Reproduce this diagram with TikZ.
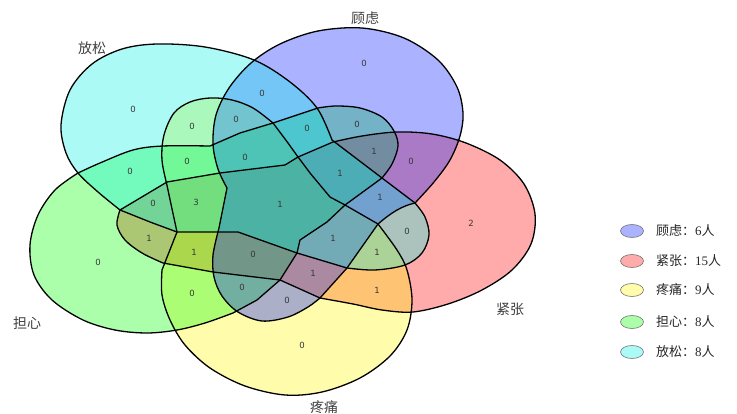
\documentclass[tikz,border=0pt]{standalone}
\usepackage{fontspec}
\newfontfamily\cjk{Noto Sans CJK SC}
\newfontfamily\numf{DejaVu Sans}
\newfontfamily\serf{Liberation Serif}
\definecolor{cblue}{RGB}{0,20,255}
\definecolor{cred}{RGB}{255,0,0}
\definecolor{cyellow}{RGB}{255,245,0}
\definecolor{cgreen}{RGB}{0,255,0}
\definecolor{ccyan}{RGB}{0,240,225}
\def\pBlue{(378,224) .. controls (392,212) and (402,206) .. (415,203) -- plot[smooth, tension=0.55] coordinates {(415,203) (434,182) (450,160) (460,136) (463,113) (457,87) (438,60) (404,38) (362,28) (318,31) (280,44) (251,63) (229,88) (216,115) (213,144) (218,169) (227,188)} -- (219,228) -- plot[smooth, tension=0.55] coordinates {(219,228) (213,255) (214,277) (222,296) (238,312) (262,321) (288,317) (308,307) (320,298)} -- (347,268) -- cycle}
\def\pRed{(120,210) -- (167,182) -- (220,173) -- (285,165) -- (298,157) -- (333,142) -- plot[smooth, tension=0.55] coordinates {(333,142) (362,136) (397,132) (432,134) (466,143) (500,160) (524,184) (535,214) (531,244) (512,270) (482,290) (448,304) (413,312) (382,310) (353,304) (320,298)} -- (280,280) -- (213,272) -- (163,263) -- plot[smooth, tension=0.55] coordinates {(163,263) (142,253) (125,240) (117,225) (120,210)} -- cycle}
\def\pGreen{plot[smooth, tension=0.55] coordinates {(78,173) (55,190) (38,215) (30,245) (34,275) (52,300) (83,320) (115,330) (147,333) (177,330) (205,323) (233,313)} -- (257,300) -- (280,280) -- (297,253) -- (300,240) -- (327,222) -- (345,205) -- plot[smooth, tension=0.55] coordinates {(382,178) (392,164) (398,146) (394,131) (382,117) (360,108) (336,106) (318,108)} -- (273,123) -- (240,133) -- (210,146) -- plot[smooth, tension=0.55] coordinates {(210,146) (163,146) (133,150) (100,163) (78,173)} -- cycle}
\def\pYellow{plot[smooth, tension=0.55] coordinates {(378,224) (397,250) (407,270) (412,300) (407,330) (390,356) (360,378) (322,392) (285,395) (245,386) (210,368) (185,345) (170,320) (162,295) (162,270)} -- (177,232) -- plot[smooth, tension=0.55] coordinates {(177,232) (168,190) (162,160) (164,135) (174,113) (190,102) (210,98) (232,100) (253,108) (273,123)} -- (288,143) -- (298,157) -- (310,173) -- (330,197) -- (345,205) -- cycle}
\def\pCyan{plot[smooth, tension=0.55] coordinates {(332,140) (317,108) (290,82) (254,60) (205,47) (157,44) (122,49) (92,64) (70,90) (61,125) (66,153) (78,173) (98,192) (120,210)} -- (150,222) -- (177,232) -- (238,232) -- (297,253) -- plot[smooth, tension=0.55] coordinates {(347,268) (375,270) (405,265) (422,253) (429,235) (425,217) (415,203)} -- (382,178) -- cycle}
\tikzset{
  num/.style={font=\numf\fontsize{8.5}{8.5}\selectfont, text=black!78, inner sep=0pt},
  setlabel/.style={font=\cjk\fontsize{14}{14}\selectfont, text=black!75, inner sep=0pt},
  legtext/.style={font=\cjk\fontsize{13}{13}\selectfont, text=black!85, inner sep=0pt, anchor=west},
  legmark/.style={draw=black!55, line width=0.6pt, fill opacity=0.33, ellipse, minimum width=23pt, minimum height=13pt},
  outline/.style={draw=black, line width=1.3pt, line join=round},
  shapefill/.style={fill opacity=0.33}
}
\usetikzlibrary{shapes.geometric}
\begin{document}
\begin{tikzpicture}[x=1pt,y=-1pt]
\useasboundingbox (0,0) rectangle (737,414);
% fills
\fill[cred, shapefill] \pRed;
\fill[cyellow, shapefill] \pYellow;
\fill[cgreen, shapefill] \pGreen;
\fill[cblue, shapefill] \pBlue;
\fill[ccyan, shapefill] \pCyan;
% outlines
\draw[outline] \pRed;
\draw[outline] \pYellow;
\draw[outline] \pGreen;
\draw[outline] \pBlue;
\draw[outline] \pCyan;
% region counts
\node[num] (n1) at (364,63) {0};
\node[num] (n2) at (133,109) {0};
\node[num] (n3) at (262,93) {0};
\node[num] (n4) at (192,126) {0};
\node[num] (n5) at (236,119) {0};
\node[num] (n6) at (307,128) {0};
\node[num] (n7) at (357,124) {0};
\node[num] (n8) at (187,161) {0};
\node[num] (n9) at (245,157) {0};
\node[num] (n10) at (374,151) {1};
\node[num] (n11) at (411,161) {0};
\node[num] (n12) at (130,171) {0};
\node[num] (n13) at (340,173) {1};
\node[num] (n14) at (153,203) {0};
\node[num] (n15) at (196,202) {3};
\node[num] (n16) at (280,204) {1};
\node[num] (n17) at (380,197) {1};
\node[num] (n18) at (471,223) {2};
\node[num] (n19) at (407,231) {0};
\node[num] (n20) at (149,238) {1};
\node[num] (n21) at (194,252) {1};
\node[num] (n22) at (253,254) {0};
\node[num] (n23) at (333,238) {1};
\node[num] (n24) at (377,252) {1};
\node[num] (n25) at (98,262) {0};
\node[num] (n26) at (313,273) {1};
\node[num] (n27) at (377,290) {1};
\node[num] (n28) at (192,293) {0};
\node[num] (n29) at (242,287) {0};
\node[num] (n30) at (287,300) {0};
\node[num] (n31) at (302,345) {0};
% set labels
\node[setlabel] (lb1) at (365,18) {顾虑};
\node[setlabel] (lb2) at (92,48) {放松};
\node[setlabel] (lb3) at (27,323) {担心};
\node[setlabel] (lb4) at (324,407) {疼痛};
\node[setlabel] (lb5) at (510,309) {紧张};
% legend
\node[legmark, fill=cblue] (m1) at (632,231) {};
\node[legmark, fill=cred] (m2) at (632,261) {};
\node[legmark, fill=cyellow] (m3) at (632,290) {};
\node[legmark, fill=cgreen] (m4) at (632,322) {};
\node[legmark, fill=ccyan] (m5) at (632,352) {};
\node[legtext] (t1) at (656,231) {顾虑：{\serf 6}人};
\node[legtext] (t2) at (656,261) {紧张：{\serf 15}人};
\node[legtext] (t3) at (656,290) {疼痛：{\serf 9}人};
\node[legtext] (t4) at (656,322) {担心：{\serf 8}人};
\node[legtext] (t5) at (656,352) {放松：{\serf 8}人};
\end{tikzpicture}
\end{document}
